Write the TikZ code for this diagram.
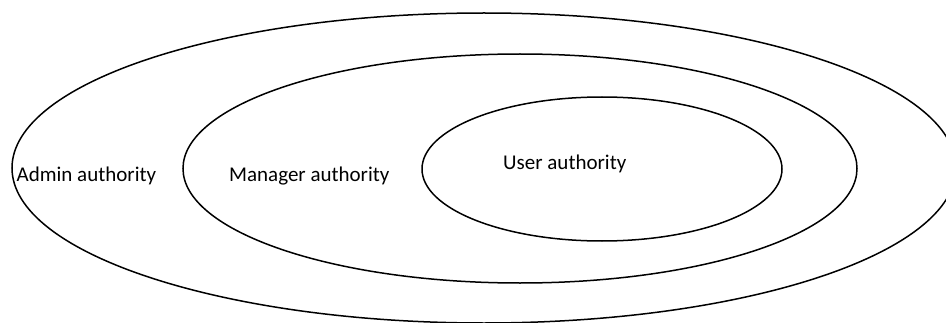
\documentclass[tikz,border=0pt]{standalone}
\usepackage{fontspec}
\setmainfont{Carlito}
\begin{document}
\begin{tikzpicture}[x=1pt,y=1pt,
  ring/.style={draw=black,line width=1.5pt},
  lbl/.style={anchor=base west,inner sep=0pt,font=\fontsize{21}{25}\selectfont}]
\useasboundingbox (0,0) rectangle (946,322);
\clip (0,0) rectangle (946,322);
\draw[ring] (484,154) ellipse [x radius=472, y radius=155];
\draw[ring] (520,153.5) ellipse [x radius=337, y radius=114.5];
\draw[ring] (602,153) ellipse [x radius=180, y radius=72];
\node[lbl] (admin) at (16.5,141) {Admin authority};
\node[lbl] (manager) at (229,141) {Manager authority};
\node[lbl] (user) at (503,153) {User authority};
\end{tikzpicture}
\end{document}
